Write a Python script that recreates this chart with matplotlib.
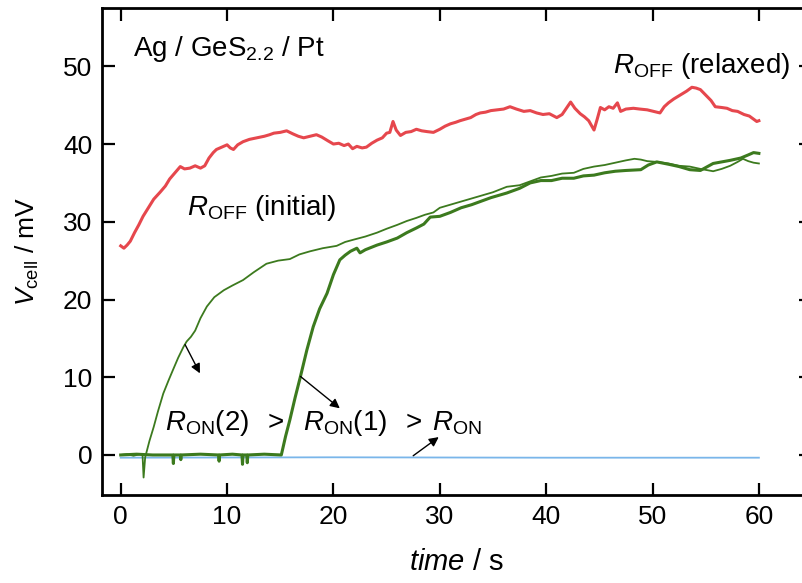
import numpy as np
import matplotlib
matplotlib.use("Agg")
import matplotlib.pyplot as plt

plt.rcParams['font.family'] = ['Liberation Sans', 'DejaVu Sans']
plt.rcParams['mathtext.fontset'] = 'custom'
plt.rcParams['mathtext.rm'] = 'Liberation Sans'
plt.rcParams['mathtext.it'] = 'Liberation Sans:italic'

# R_OFF trace (red)
t_off = [0.0, 0.3, 0.6, 0.9, 1.3, 1.7, 2.1, 2.6, 3.1, 3.7,
         4.2, 4.6, 5.1, 5.6, 6.0, 6.5, 7.0, 7.5, 7.9, 8.3,
         8.7, 9.0, 9.5, 10.0, 10.3, 10.6, 11.0, 11.5, 12.1, 12.8,
         13.5, 14.0, 14.4, 15.0, 15.6, 16.2, 16.7, 17.2, 17.8, 18.4,
         18.9, 19.5, 20.0, 20.5, 21.0, 21.4, 21.8, 22.2, 22.7, 23.1,
         23.6, 24.1, 24.6, 25.0, 25.3, 25.6, 25.9, 26.3, 26.8, 27.3,
         27.8, 28.3, 28.8, 29.4, 30.0, 30.5, 31.0, 31.5, 31.9, 32.4,
         32.9, 33.4, 33.8, 34.3, 34.8, 35.4, 36.0, 36.6, 37.2, 37.9,
         38.5, 39.1, 39.7, 40.3, 41.0, 41.5, 41.9, 42.3, 42.7, 43.2,
         43.6, 44.0, 44.5, 44.8, 45.1, 45.5, 45.9, 46.3, 46.7, 47.0,
         47.5, 48.2, 48.8, 49.5, 50.1, 50.7, 51.1, 51.5, 52.0, 52.6,
         53.2, 53.7, 54.1, 54.5, 55.0, 55.5, 55.9, 56.5, 57.0, 57.5,
         58.0, 58.6, 59.1, 59.5, 59.8, 60.0]
v_off = [26.9, 26.6, 27.0, 27.5, 28.6, 29.6, 30.7, 31.8, 32.9, 33.8,
         34.6, 35.5, 36.3, 37.1, 36.8, 36.9, 37.2, 36.9, 37.2, 38.2,
         38.9, 39.3, 39.6, 39.9, 39.5, 39.3, 39.9, 40.3, 40.6, 40.8,
         41.0, 41.2, 41.4, 41.5, 41.7, 41.3, 41.0, 40.8, 41.0, 41.2,
         40.9, 40.4, 40.0, 40.1, 39.8, 40.0, 39.4, 39.7, 39.5, 39.6,
         40.1, 40.5, 40.8, 41.4, 41.5, 42.9, 41.8, 41.1, 41.5, 41.6,
         41.9, 41.7, 41.6, 41.5, 41.9, 42.3, 42.6, 42.8, 43.0, 43.2,
         43.4, 43.8, 44.0, 44.1, 44.3, 44.4, 44.5, 44.8, 44.5, 44.2,
         44.3, 44.0, 43.8, 43.9, 43.4, 43.8, 44.6, 45.4, 44.6, 43.9,
         43.5, 43.0, 41.8, 43.2, 44.7, 44.4, 44.8, 44.6, 45.3, 44.2,
         44.5, 44.6, 44.5, 44.4, 44.2, 44.0, 44.8, 45.3, 45.8, 46.3,
         46.8, 47.3, 47.2, 47.0, 46.3, 45.6, 44.8, 44.7, 44.6, 44.3,
         44.2, 43.8, 43.6, 43.2, 42.9, 43.0]

# R_ON(2) trace (thin green)
t_on2 = [0.0, 0.6, 1.2, 1.8, 2.05, 2.15, 2.3, 2.7, 3.1, 3.5,
         4.0, 4.5, 4.9, 5.4, 5.9, 6.2, 6.6, 7.0, 7.5, 8.1,
         8.8, 9.7, 10.5, 11.5, 12.5, 13.7, 14.8, 15.9, 16.8, 17.8,
         19.0, 20.3, 21.1, 21.9, 23.0, 24.1, 25.0, 26.0, 26.9, 27.8,
         28.6, 29.4, 30.0, 31.0, 32.0, 33.0, 34.0, 35.0, 36.3, 37.5,
         38.5, 39.5, 40.5, 41.5, 42.6, 43.5, 44.5, 45.5, 46.5, 47.5,
         48.3, 48.9, 49.5, 50.4, 51.5, 52.5, 53.5, 54.5, 55.7, 56.5,
         57.3, 58.0, 58.5, 59.0, 59.5, 60.0]
v_on2 = [0.0, 0.1, -0.1, 0.1, 0.0, -2.9, -0.3, 1.8, 3.6, 5.6,
         7.9, 9.6, 10.9, 12.5, 13.9, 14.6, 15.2, 16.0, 17.6, 19.1,
         20.3, 21.2, 21.8, 22.5, 23.5, 24.6, 25.0, 25.2, 25.8, 26.2,
         26.6, 26.9, 27.4, 27.7, 28.1, 28.6, 29.1, 29.6, 30.1, 30.5,
         30.9, 31.2, 31.8, 32.2, 32.6, 33.0, 33.4, 33.8, 34.5, 34.7,
         35.2, 35.7, 35.9, 36.2, 36.3, 36.8, 37.1, 37.3, 37.6, 37.9,
         38.1, 38.0, 37.8, 37.7, 37.5, 37.2, 37.1, 36.8, 36.5, 36.8,
         37.2, 37.7, 38.1, 37.8, 37.6, 37.5]

# R_ON(1) trace (thick green)
t_on1 = [0.0, 1.5, 3.0, 4.9, 4.95, 5.0, 5.6, 5.65, 5.7, 7.5,
         9.2, 9.25, 9.3, 10.5, 11.4, 11.45, 11.5, 11.85, 11.9, 11.95,
         13.5, 15.1, 15.5, 15.9, 16.4, 16.9, 17.5, 18.1, 18.7, 19.4,
         20.0, 20.6, 21.1, 21.6, 22.2, 22.5, 23.0, 24.1, 25.0, 26.0,
         26.9, 27.8, 28.5, 29.1, 30.0, 31.0, 32.0, 33.0, 33.8, 34.8,
         36.3, 37.5, 38.5, 39.5, 40.5, 41.5, 42.6, 43.5, 44.5, 45.5,
         46.5, 47.5, 48.9, 49.6, 50.4, 51.5, 52.5, 53.5, 54.5, 55.7,
         56.5, 57.3, 58.3, 59.0, 59.5, 60.0]
v_on1 = [0.0, 0.1, 0.0, 0.0, -1.1, 0.0, 0.0, -0.6, 0.0, 0.1,
         0.0, -0.8, 0.0, 0.1, 0.0, -1.2, 0.0, 0.0, -1.0, 0.0,
         0.1, 0.0, 2.4, 4.5, 7.4, 10.1, 13.5, 16.5, 18.8, 20.8,
         23.2, 25.1, 25.7, 26.2, 26.6, 26.0, 26.4, 27.0, 27.4, 27.9,
         28.6, 29.2, 29.7, 30.6, 30.7, 31.2, 31.8, 32.2, 32.6, 33.1,
         33.7, 34.3, 35.0, 35.3, 35.3, 35.6, 35.6, 35.9, 36.0, 36.3,
         36.5, 36.6, 36.7, 37.3, 37.7, 37.4, 37.1, 36.7, 36.6, 37.5,
         37.7, 37.9, 38.2, 38.6, 38.9, 38.8]

# R_ON trace (blue)
t_on = [0.0, 20.0, 40.0, 60.0]
v_on = [-0.35, -0.3, -0.35, -0.35]

fig = plt.figure(figsize=(8.03, 5.83), dpi=100)
ax = fig.add_axes([102 / 803, 1 - 495 / 583, 709 / 803, 487 / 583])

ax.plot(t_on, v_on, color='#7ab6ea', lw=1.3)
ax.plot(t_on1, v_on1, color='#3c7a1e', lw=2.2)
ax.plot(t_on2, v_on2, color='#3c7a1e', lw=1.3)
ax.plot(t_off, v_off, color='#e6474d', lw=2.2)

ax.set_xlim(-1.76, 64.9)
ax.set_ylim(-5.15, 57.5)
ax.set_xticks(np.arange(0, 61, 10))
ax.set_yticks(np.arange(0, 51, 10))
ax.tick_params(direction='in', length=9, width=1.6, top=True, right=True,
               labelsize=19, pad=7)
for sp in ax.spines.values():
    sp.set_linewidth(2)

ax.set_xlabel(r'$\mathit{time}$ / s', fontsize=21, labelpad=14)
ax.set_ylabel(r'$V_{\rm cell}$ / mV', fontsize=19, labelpad=16)

ax.text(1.15, 52.2, r'Ag / GeS$_{2.2}$ / Pt', fontsize=20, va='center', ha='left')
ax.text(6.2, 31.8, r'$R_{\rm OFF}$ (initial)', fontsize=20, va='center', ha='left')
ax.text(46.3, 50.0, r'$R_{\rm OFF}$ (relaxed)', fontsize=20, va='center', ha='left')
ax.text(4.2, 4.1, r'$R_{\rm ON}$(2)', fontsize=20, va='center', ha='left')
ax.text(13.8, 4.1, '>', fontsize=20, va='center', ha='left')
ax.text(17.1, 4.1, r'$R_{\rm ON}$(1)', fontsize=20, va='center', ha='left')
ax.text(26.8, 4.1, '>', fontsize=20, va='center', ha='left')
ax.text(29.3, 4.1, r'$R_{\rm ON}$', fontsize=20, va='center', ha='left')

arrow = dict(arrowstyle='-|>', color='black', lw=1.0, mutation_scale=14,
             shrinkA=0, shrinkB=0)
ax.annotate('', xy=(7.45, 10.5), xytext=(6.05, 14.2), arrowprops=arrow)
ax.annotate('', xy=(20.6, 6.0), xytext=(16.9, 10.1), arrowprops=arrow)
ax.annotate('', xy=(29.9, 2.3), xytext=(27.5, -0.1), arrowprops=arrow)

fig.savefig('out.png', dpi=100)
